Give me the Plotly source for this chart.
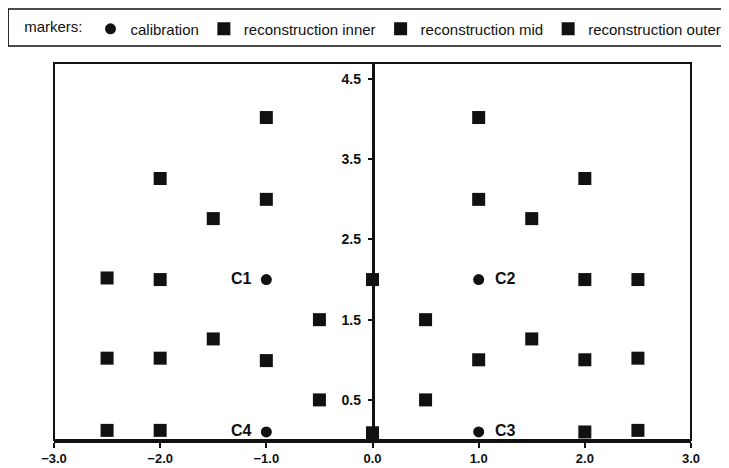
import plotly.graph_objects as go

# Calibration points
cal_x = [-1.0, 1.0, 1.0, -1.0]
cal_y = [2.0, 2.0, 0.1, 0.1]
cal_labels = ["C1", "C2", "C3", "C4"]
cal_side = ["left", "right", "right", "left"]

# Reconstruction points (inner)
inner_x = [-1.0, -1.0, -1.0, -0.5, -0.5, 0.0, 0.0, 0.5, 0.5, 1.0, 1.0, 1.0]
inner_y = [4.02, 3.0, 0.99, 1.5, 0.5, 2.0, 0.09, 1.5, 0.5, 4.02, 3.0, 1.0]

# Reconstruction points (mid)
mid_x = [-2.0, -1.5, -2.0, -1.5, -2.0, -2.0, 2.0, 1.5, 2.0, 1.5, 2.0, 2.0]
mid_y = [3.26, 2.76, 2.0, 1.26, 1.02, 0.12, 3.26, 2.76, 2.0, 1.26, 1.0, 0.1]

# Reconstruction points (outer)
outer_x = [-2.5, -2.5, -2.5, 2.5, 2.5, 2.5]
outer_y = [2.02, 1.02, 0.12, 2.0, 1.02, 0.12]

x_ticks = [-3.0, -2.0, -1.0, 0.0, 1.0, 2.0, 3.0]
y_ticks = [0.5, 1.5, 2.5, 3.5, 4.5]

FONT = "Liberation Sans, Arial, sans-serif"
INK = "#111"

fig = go.Figure()

fig.add_trace(go.Scatter(
    x=cal_x, y=cal_y, mode="markers", name="calibration",
    marker=dict(symbol="circle", size=11, color=INK),
    cliponaxis=False,
))
for nm, xs, ys in [("reconstruction inner", inner_x, inner_y),
                   ("reconstruction mid", mid_x, mid_y),
                   ("reconstruction outer", outer_x, outer_y)]:
    fig.add_trace(go.Scatter(
        x=xs, y=ys, mode="markers", name=nm,
        marker=dict(symbol="square", size=13, color=INK),
        cliponaxis=False,
    ))

annotations = []
for cx, cy, lab, side in zip(cal_x, cal_y, cal_labels, cal_side):
    annotations.append(dict(
        x=cx, y=cy, xref="x", yref="y", text=lab, showarrow=False,
        xanchor="right" if side == "left" else "left",
        xshift=-12 if side == "left" else 14, yshift=1,
        font=dict(family=FONT, size=16, color=INK, weight="bold"),
    ))

# page body has an 8px margin; size/margins compensate so the plot area
# lands at page x 54..691, y 63..440
fig.update_layout(
    width=721, height=460,
    margin=dict(l=46, r=38, t=55, b=28, autoexpand=False),
    paper_bgcolor="white", plot_bgcolor="white",
    font=dict(family=FONT, color=INK),
    showlegend=True,
    legend=dict(
        orientation="h", x=-0.05, xanchor="left", y=1.09, yanchor="middle",
        title=dict(text="markers:", font=dict(size=15, family=FONT), side="left"),
        font=dict(size=15, family=FONT, color=INK),
        bgcolor="rgba(0,0,0,0)",
    ),
    annotations=annotations,
    xaxis=dict(
        range=[-3, 3], tickvals=x_ticks, tickformat=".1f",
        showgrid=False, zeroline=False,
        showline=True, linecolor=INK, linewidth=2.5,
        ticks="outside", ticklen=5, tickwidth=2, tickcolor=INK,
        ticklabelstandoff=0,
        tickfont=dict(family=FONT, size=13, color=INK, weight="bold"),
        fixedrange=True,
    ),
    yaxis=dict(
        range=[0, 4.7], tickvals=y_ticks, tickformat=".1f",
        anchor="free", position=0.5, side="left",
        showgrid=False, zeroline=False,
        showline=True, linecolor=INK, linewidth=2.5,
        ticks="outside", ticklen=4, tickwidth=2, tickcolor=INK,
        ticklabelstandoff=4,
        tickfont=dict(family=FONT, size=14, color=INK, weight="bold"),
        fixedrange=True,
    ),
    yaxis2=dict(
        range=[0, 4.7], tickvals=y_ticks, overlaying="y",
        anchor="free", position=0.5, side="right",
        showgrid=False, zeroline=False, showline=False,
        ticks="outside", ticklen=4, tickwidth=2, tickcolor=INK,
        showticklabels=False, fixedrange=True,
    ),
    shapes=[
        dict(type="rect", xref="paper", yref="paper", x0=0, x1=1, y0=0, y1=1,
             line=dict(color=INK, width=2), layer="below"),
        dict(type="rect", xref="paper", yref="paper", x0=-0.072, x1=1.052,
             y0=1.045, y1=1.143, line=dict(color=INK, width=1.5)),
    ],
)

fig.write_html("out.html")
